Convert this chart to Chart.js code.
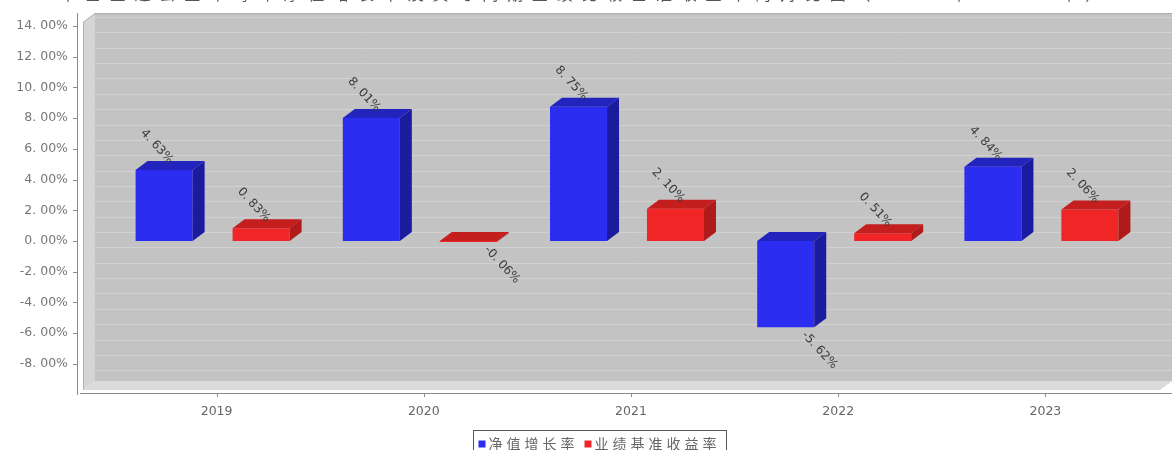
<!DOCTYPE html>
<html>
<head>
<meta charset="utf-8">
<script src="https://cdn.jsdelivr.net/npm/chart.js@4.4.1/dist/chart.umd.min.js"></script>
<style>
    html, body { margin: 0; padding: 0; background: #fff; overflow: hidden; }
    #returnChart { display: block; }
</style>
</head>
<body>
<canvas id="returnChart" width="1176" height="450"></canvas>
<script>
const chartTitle = '本基金过去五年每年净值增长率及其与同期业绩比较基准收益率的对比图（2019年-2023年）';
const years = ['2019', '2020', '2021', '2022', '2023'];
const seriesNames = ['净值增长率', '业绩基准收益率'];
const navGrowth = [4.63, 8.01, 8.75, -5.62, 4.84];
const benchmarkReturn = [0.83, -0.06, 2.10, 0.51, 2.06];
const yMin = -9.7, yMax = 14.26;
const yTicks = [-8, -6, -4, -2, 0, 2, 4, 6, 8, 10, 12, 14];
const gridValues = [-9, -8, -7, -6, -5, -4, -3, -2, -1, 0, 1, 2, 3, 4, 5, 6, 7, 8, 9, 10, 11, 12, 13, 14];

const DX = 12, DY = 9;
const faceColors = [
    { top: '#2323bd', side: '#1b1ba0' },
    { top: '#c41e1e', side: '#b01a1a' }
];
const numFamily = '"DejaVu Sans", sans-serif';
const cjkFont = '"Noto Sans CJK SC", "Noto Sans", sans-serif';

function fmtPct(v) {
    return Number(v).toFixed(2).replace('.', '. ') + '%';
}

function poly(ctx, pts, fill) {
    ctx.beginPath();
    ctx.moveTo(pts[0][0], pts[0][1]);
    for (let i = 1; i < pts.length; i++) ctx.lineTo(pts[i][0], pts[i][1]);
    ctx.closePath();
    ctx.fillStyle = fill;
    ctx.fill();
}

// walls, floor, grid and axis lines
const plotBackground = {
    id: 'plotBackground',
    beforeDatasetsDraw(chart) {
        const ctx = chart.ctx;
        const area = chart.chartArea;
        const yScale = chart.scales.y;
        const fl = area.left - 26, fr = area.right + 15, ft = area.top, fb = area.bottom;
        ctx.save();
        ctx.fillStyle = '#c3c3c3';
        ctx.fillRect(fl + DX, ft - DY, fr - fl, fb - ft);

        ctx.strokeStyle = '#d1d1d1';
        ctx.lineWidth = 1;
        gridValues.forEach(v => {
            const py = Math.round(yScale.getPixelForValue(v) - DY) + 0.5;
            ctx.beginPath();
            ctx.moveTo(fl + DX, py);
            ctx.lineTo(fr + DX, py);
            ctx.stroke();
        });

        poly(ctx, [[fl, ft], [fl + DX, ft - DY], [fl + DX, fb - DY], [fl, fb]], '#d5d5d5');
        poly(ctx, [[fl, fb], [fl + DX, fb - DY], [fr + DX, fb - DY], [fr, fb]], '#dadada');

        ctx.strokeStyle = '#b0b0b0';
        ctx.beginPath();
        ctx.moveTo(fl + 0.5, fb);
        ctx.lineTo(fl + 0.5, ft);
        ctx.lineTo(fl + DX, ft - DY + 0.5);
        ctx.lineTo(fr + DX, ft - DY + 0.5);
        ctx.stroke();

        // axis lines
        ctx.strokeStyle = '#8a8a8a';
        ctx.beginPath();
        ctx.moveTo(fl - 5.5, ft - DY);
        ctx.lineTo(fl - 5.5, fb + 5);
        ctx.moveTo(fl - 3, fb + 3.5);
        ctx.lineTo(fr + DX, fb + 3.5);
        ctx.stroke();
        ctx.beginPath();
        yTicks.forEach(v => {
            const py = Math.round(yScale.getPixelForValue(v)) + 0.5;
            ctx.moveTo(fl - 10, py);
            ctx.lineTo(fl - 5.5, py);
        });
        chart.scales.x.ticks.forEach((t, i) => {
            const px = Math.round(chart.scales.x.getPixelForTick(i)) + 4.5;
            ctx.moveTo(px, fb + 3.5);
            ctx.lineTo(px, fb + 7);
        });
        ctx.stroke();
        ctx.restore();
    }
};

// top and side faces of the bars plus the rotated value labels
const bars3d = {
    id: 'bars3d',
    afterDatasetsDraw(chart) {
        const ctx = chart.ctx;
        ctx.save();
        chart.data.datasets.forEach((ds, di) => {
            const meta = chart.getDatasetMeta(di);
            meta.data.forEach(el => {
                const p = el.getProps(['x', 'y', 'base', 'width'], true);
                const left = p.x - p.width / 2, right = p.x + p.width / 2;
                const top = Math.min(p.y, p.base), bottom = Math.max(p.y, p.base);
                poly(ctx, [[left, top], [left + DX, top - DY], [right + DX, top - DY], [right, top]], faceColors[di].top);
                poly(ctx, [[right, top], [right + DX, top - DY], [right + DX, bottom - DY], [right, bottom]], faceColors[di].side);
            });
        });
        ctx.fillStyle = '#3a3a3a';
        ctx.font = '12px ' + numFamily;
        ctx.textBaseline = 'middle';
        chart.data.datasets.forEach((ds, di) => {
            const meta = chart.getDatasetMeta(di);
            meta.data.forEach((el, i) => {
                const v = ds.data[i];
                const p = el.getProps(['x', 'y', 'base'], true);
                ctx.save();
                if (v >= 0) {
                    ctx.translate(p.x + 7, Math.min(p.y, p.base) - 8);
                    ctx.textAlign = 'right';
                } else {
                    ctx.translate(p.x + 18, Math.max(p.y, p.base) + 6);
                    ctx.textAlign = 'left';
                }
                ctx.rotate(47 * Math.PI / 180);
                ctx.fillText(fmtPct(v), 0, 0);
                ctx.restore();
            });
        });
        ctx.restore();
    }
};

// title (only its lower edge fits in the picture) and boxed legend
const titleAndLegend = {
    id: 'titleAndLegend',
    afterDraw(chart) {
        const ctx = chart.ctx;
        ctx.save();
        ctx.font = '16px ' + cjkFont;
        ctx.fillStyle = '#555';
        ctx.textBaseline = 'bottom';
        ctx.textAlign = 'left';
        const plain = ctx.measureText(chartTitle).width;
        const spacing = Math.max(0, (1050 - plain) / chartTitle.length);
        ctx.letterSpacing = spacing + 'px';
        ctx.fillText(chartTitle, 60, 2);

        ctx.font = '14px ' + cjkFont;
        ctx.letterSpacing = '4px';
        ctx.textBaseline = 'middle';
        const colors = chart.data.datasets.map(d => d.backgroundColor);
        const widths = seriesNames.map(n => ctx.measureText(n).width);
        const boxW = 5 + widths.reduce((a, w) => a + 7 + 3 + w + 6, 0);
        const bx = Math.round(599 - boxW / 2) + 0.5, by = 430.5;
        ctx.strokeStyle = '#555';
        ctx.lineWidth = 1;
        ctx.strokeRect(bx, by, boxW, 30);
        let x = bx + 5;
        const cy = by + 13;
        seriesNames.forEach((n, i) => {
            ctx.fillStyle = colors[i];
            ctx.fillRect(x, cy - 3, 7, 7);
            x += 10;
            ctx.fillStyle = '#666';
            ctx.fillText(n, x, cy);
            x += widths[i] + 6;
        });
        ctx.restore();
    }
};

document.addEventListener('DOMContentLoaded', function() {
    const ctx = document.getElementById('returnChart').getContext('2d');
    new Chart(ctx, {
        type: 'bar',
        data: {
            labels: years,
            datasets: [{
                label: seriesNames[0],
                data: navGrowth,
                backgroundColor: '#2b2df0',
                borderWidth: 0,
                categoryPercentage: 0.936,
                barPercentage: 0.588
            }, {
                label: seriesNames[1],
                data: benchmarkReturn,
                backgroundColor: '#f02626',
                borderWidth: 0,
                categoryPercentage: 0.936,
                barPercentage: 0.588
            }]
        },
        options: {
            responsive: false,
            animation: false,
            events: [],
            layout: {
                padding: { top: 22, bottom: 24, left: 0, right: 31 }
            },
            plugins: {
                legend: { display: false },
                title: { display: false },
                tooltip: { enabled: false }
            },
            scales: {
                x: {
                    grid: { display: false, drawTicks: false },
                    border: { display: false },
                    afterFit: s => { s.height = 36; },
                    ticks: {
                        padding: 14,
                        labelOffset: 4,
                        color: '#666',
                        font: { size: 12.5, family: numFamily }
                    }
                },
                y: {
                    min: yMin,
                    max: yMax,
                    afterBuildTicks: s => {
                        s.ticks = yTicks.map(v => ({ value: v }));
                    },
                    afterFit: s => {
                        // big tick padding only moves the labels left, not the plot top
                        s.width = 109;
                        s.paddingTop = 0;
                        s.paddingBottom = 0;
                    },
                    grid: { display: false, drawTicks: false },
                    border: { display: false },
                    ticks: {
                        padding: 41,
                        color: '#777',
                        font: { size: 12.5, family: numFamily },
                        callback: v => fmtPct(v)
                    }
                }
            }
        },
        plugins: [plotBackground, bars3d, titleAndLegend]
    });
});
</script>
</body>
</html>
